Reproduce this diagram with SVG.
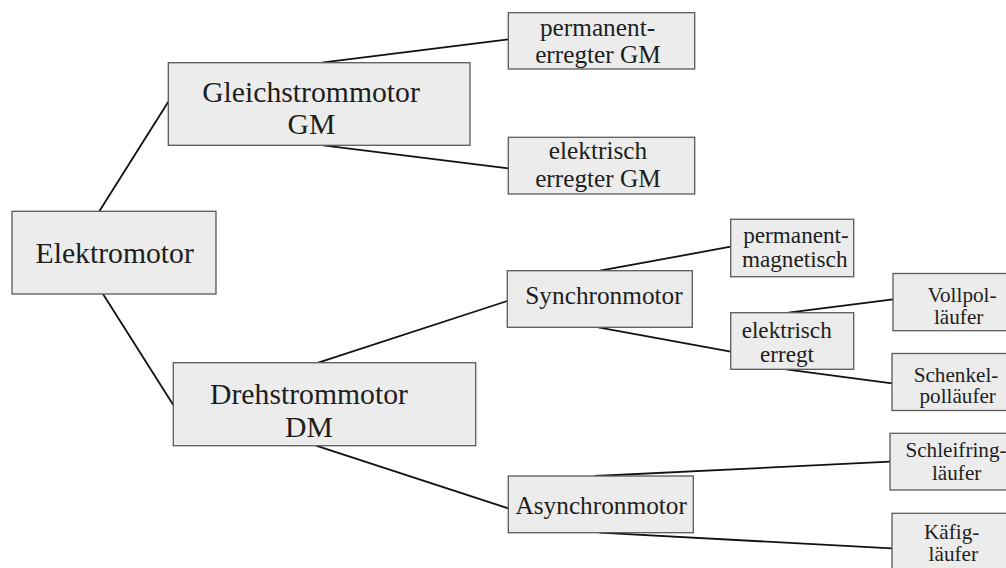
<svg xmlns="http://www.w3.org/2000/svg" width="1006" height="568" viewBox="0 0 1006 568">
<style>
.box{fill:#ebeceb;stroke:#5a5a5a;stroke-width:1.3}
text{fill:#1e1e1e;text-anchor:middle}
.xl{font-size:29.7px}
.l{font-size:25.3px}
.m{font-size:23.2px}
.s{font-size:21.2px}
.con line{stroke:#111;stroke-width:1.8;stroke-linecap:butt}
</style>
<rect width="1006" height="568" fill="#fff"/>
<g id="connectors" class="con">
<line x1="99.3" y1="211.3" x2="168.3" y2="101.7"/>
<line x1="103" y1="294" x2="173.3" y2="405"/>
<line x1="321.7" y1="62.7" x2="508.3" y2="39.3"/>
<line x1="323.3" y1="145.3" x2="508.3" y2="168.3"/>
<line x1="318.3" y1="362.7" x2="507.3" y2="301"/>
<line x1="316" y1="445.7" x2="508.3" y2="508.3"/>
<line x1="600" y1="270.7" x2="730.7" y2="246.7"/>
<line x1="598.3" y1="327.3" x2="730.7" y2="351.7"/>
<line x1="788.3" y1="312.7" x2="893" y2="299.3"/>
<line x1="786" y1="369.3" x2="892" y2="383.3"/>
<line x1="595" y1="476" x2="890" y2="461.7"/>
<line x1="599.3" y1="532.7" x2="892" y2="548.3"/>
</g>
<g font-family="'Liberation Serif', 'DejaVu Serif', 'Times New Roman', serif">
<g id="elektromotor">
<rect class="box" x="12" y="211.3" width="204" height="82.7"/>
<text class="xl" x="114.7" y="263.3">Elektromotor</text>
</g>
<g id="gleichstrommotor">
<rect class="box" x="168.3" y="62.7" width="301.7" height="82.6"/>
<text class="xl" x="311" y="101.7">Gleichstrommotor</text>
<text class="xl" x="311.5" y="134">GM</text>
</g>
<g id="drehstrommotor">
<rect class="box" x="173.3" y="362.7" width="302.4" height="83"/>
<text class="xl" x="309" y="404">Drehstrommotor</text>
<text class="xl" x="309" y="436.7">DM</text>
</g>
<g id="permanent-erregter-gm">
<rect class="box" x="508.3" y="12.7" width="186.4" height="56.3"/>
<text class="l" x="597.5" y="36">permanent-</text>
<text class="l" x="598" y="63.3">erregter GM</text>
</g>
<g id="elektrisch-erregter-gm">
<rect class="box" x="508.3" y="137.3" width="186.4" height="56.7"/>
<text class="l" x="598" y="159.3">elektrisch</text>
<text class="l" x="598" y="187.3">erregter GM</text>
</g>
<g id="synchronmotor">
<rect class="box" x="507.3" y="270.7" width="185" height="56.6"/>
<text class="l" x="604" y="304">Synchronmotor</text>
</g>
<g id="asynchronmotor">
<rect class="box" x="508.3" y="476" width="185" height="56.7"/>
<text class="l" x="601.2" y="514">Asynchronmotor</text>
</g>
<g id="permanentmagnetisch">
<rect class="box" x="730.7" y="219.3" width="123" height="57.4"/>
<text class="m" x="796" y="243.3">permanent-</text>
<text class="m" x="794.7" y="266.7">magnetisch</text>
</g>
<g id="elektrisch-erregt">
<rect class="box" x="730.7" y="312.7" width="123" height="56.6"/>
<text class="m" x="786.7" y="337.7">elektrisch</text>
<text class="m" x="787" y="362.3">erregt</text>
</g>
<g id="vollpollaeufer">
<rect class="box" x="893" y="273.5" width="125" height="57.2"/>
<text class="s" x="962" y="301.7">Vollpol-</text>
<text class="s" x="958.7" y="324">läufer</text>
</g>
<g id="schenkelpollaeufer">
<rect class="box" x="892" y="353.5" width="125" height="57"/>
<text class="s" x="956" y="381.7">Schenkel-</text>
<text class="s" x="957.7" y="403.3">polläufer</text>
</g>
<g id="schleifringlaeufer">
<rect class="box" x="890" y="433.3" width="125" height="56.7"/>
<text class="s" x="956" y="456.7">Schleifring-</text>
<text class="s" x="956.7" y="480">läufer</text>
</g>
<g id="kaefiglaeufer">
<rect class="box" x="892" y="513.3" width="125" height="62"/>
<text class="s" x="951.7" y="538.8">Käfig-</text>
<text class="s" x="953.3" y="560.5">läufer</text>
</g>
</g>
</svg>
